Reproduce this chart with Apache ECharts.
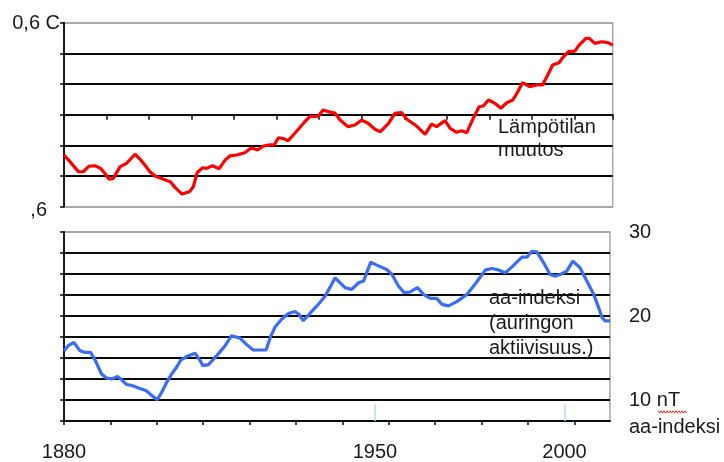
<!DOCTYPE html>
<html>
<head>
<meta charset="utf-8">
<script src="https://cdn.jsdelivr.net/npm/echarts@6/dist/echarts.min.js"></script>
<style>
  html, body { margin: 0; padding: 0; background: #fff; }
  #chart { width: 724px; height: 462px; }
</style>
</head>
<body>
<div id="chart"></div>
<script>
// ---- Data ----
// Temperature change (°C), smoothed, upper panel
const TEMP_YEARS = [1880, 1881.4, 1883.4, 1884.5, 1885.9, 1887.3, 1888.6, 1889.6, 1890.6, 1891.6, 1893.2, 1894.7, 1896.7, 1897.9, 1899, 1900.2, 1901.4, 1903.4, 1905, 1906.1, 1907.7, 1909.5, 1910.4, 1911.3, 1912.6, 1913.5, 1914.9, 1916.5, 1917.9, 1919, 1920.6, 1922.5, 1924.1, 1925.5, 1926.9, 1928.4, 1929.4, 1930.4, 1931.6, 1932.7, 1933.9, 1935.5, 1936.6, 1937.8, 1939.8, 1940.9, 1942.1, 1943.7, 1944.9, 1946.8, 1948.4, 1950, 1951.5, 1953.1, 1954.4, 1956.3, 1957.8, 1959.4, 1960.6, 1962.9, 1964.9, 1966.4, 1967.6, 1969.6, 1970.8, 1972.3, 1973.5, 1974.7, 1976.2, 1977.6, 1978.6, 1979.8, 1981.3, 1982.7, 1984.1, 1985.5, 1986.4, 1987.8, 1989.5, 1991.1, 1992.5, 1993.5, 1994.9, 1996.4, 1997.4, 1998.6, 2000.1, 2001.1, 2002.7, 2003.5, 2004.8, 2006.4, 2007.9, 2009];
const TEMP_VALUES = [-0.263, -0.306, -0.372, -0.372, -0.335, -0.333, -0.350, -0.382, -0.421, -0.415, -0.339, -0.317, -0.258, -0.291, -0.328, -0.372, -0.400, -0.421, -0.437, -0.474, -0.517, -0.502, -0.470, -0.378, -0.346, -0.350, -0.333, -0.352, -0.295, -0.269, -0.263, -0.248, -0.215, -0.230, -0.204, -0.196, -0.198, -0.150, -0.156, -0.170, -0.132, -0.082, -0.046, -0.013, -0.010, 0.031, 0.020, 0.010, -0.035, -0.078, -0.067, -0.035, -0.056, -0.095, -0.111, -0.056, 0.009, 0.013, -0.030, -0.074, -0.128, -0.061, -0.078, -0.039, -0.089, -0.115, -0.104, -0.117, -0.024, 0.052, 0.057, 0.096, 0.074, 0.042, 0.078, 0.096, 0.135, 0.209, 0.183, 0.194, 0.194, 0.248, 0.324, 0.339, 0.378, 0.411, 0.415, 0.454, 0.498, 0.498, 0.465, 0.476, 0.470, 0.454];

// aa-index (nT), smoothed, lower panel
const AA_YEARS = [1868, 1869.1, 1870.6, 1872.2, 1873.5, 1875, 1876.2, 1877.9, 1879.3, 1880.6, 1882.1, 1883.2, 1884.5, 1885.9, 1888, 1889.6, 1891.1, 1892.6, 1893.8, 1895.1, 1896.4, 1897.7, 1898.8, 1900.8, 1902.6, 1903.9, 1904.6, 1906.1, 1908.3, 1910.5, 1912.2, 1914.4, 1916.2, 1917.9, 1919.7, 1921.3, 1922.4, 1923.7, 1925.4, 1927.2, 1928.9, 1930.1, 1931.1, 1932.5, 1934.7, 1936.9, 1938.2, 1939.5, 1942.1, 1943.9, 1945.7, 1947, 1948.9, 1950.5, 1953.1, 1954.5, 1956.2, 1957.7, 1959.3, 1961.2, 1962.8, 1964.6, 1966.3, 1967.7, 1969.4, 1971.6, 1974.3, 1976.9, 1979.1, 1980.8, 1982.2, 1984.4, 1986.1, 1987.4, 1988.8, 1990.1, 1991.4, 1992.7, 1994.5, 1996.2, 1997.6, 1998.9, 2000.6, 2002.2, 2004.1, 2005, 2007.7, 2009, 2009.9, 2010.7, 2012];
const AA_VALUES = [15.87, 16.47, 16.86, 15.87, 15.67, 15.67, 14.76, 13.10, 12.60, 12.51, 12.80, 12.40, 11.85, 11.73, 11.38, 11.14, 10.55, 10.03, 10.94, 12.12, 13.10, 13.90, 14.76, 15.28, 15.56, 14.69, 14.10, 14.22, 15.28, 16.47, 17.65, 17.37, 16.59, 15.95, 15.95, 15.95, 17.45, 18.72, 19.62, 20.29, 20.53, 20.14, 19.43, 20.14, 21.20, 22.39, 23.45, 24.55, 23.37, 23.17, 23.96, 24.16, 26.41, 26.06, 25.54, 24.95, 23.57, 22.78, 22.86, 23.37, 22.58, 22.10, 22.10, 21.39, 21.20, 21.71, 22.58, 24.08, 25.46, 25.66, 25.54, 25.15, 25.82, 26.41, 27.00, 27.00, 27.71, 27.63, 26.33, 24.95, 24.75, 24.95, 25.35, 26.53, 25.74, 24.95, 22.58, 21.00, 19.82, 19.43, 19.43];

// Axis labels / ticks
const TEMP_TICK_LABELS = { '0.6': '0,6 C', '-0.6': ',6' };
const AA_TICK_LABELS = { '30': '30', '20': '20', '10': '10 nT' };
const X_LABEL_YEARS = [1868, 1950, 2000];
const X_LABELS = ['1880', '1950', '2000'];
const X_TICK_YEARS = [1868, 1880.2, 1892.5, 1904.7, 1917, 1929.2, 1941.4, 1953.7, 1965.9, 1978.2, 1990.4, 2002.6];
const MARKER_YEARS = [1950, 2000];

const TEMP_NOTE = 'Lämpötilan\nmuutos';
const AA_NOTE = 'aa-indeksi\n(auringon\naktiivisuus.)';
const AA_UNIT = 'aa-indeksi';

// ---- Styles ----
const FONT = '"Liberation Sans", Arial, sans-serif';
const TXT = '#1a1a1a';
const GRID_DARK = '#0a0a0a';
const BORDER = '#a8a8a8';

const chart = echarts.init(document.getElementById('chart'), null, { renderer: 'canvas' });

function wavy(x0, x1, y, amp, step) {
  const pts = [];
  let k = 0;
  for (let x = x0; x <= x1; x += step / 2, k++) pts.push([x, y + (k % 2 ? amp : -amp)]);
  return pts;
}

const option = {
  animation: false,
  backgroundColor: '#fff',
  textStyle: { fontFamily: FONT },
  grid: [
    { left: 64, top: 22.7, right: 111.3, height: 184, show: true, borderColor: BORDER, borderWidth: 1.5, backgroundColor: 'transparent' },
    { left: 64, top: 232, right: 114, height: 190, show: true, borderColor: BORDER, borderWidth: 1.5, backgroundColor: 'transparent' }
  ],
  xAxis: [
    {
      gridIndex: 0, type: 'value', min: 1880, max: 2009, interval: 10,
      axisLine: { show: true, onZero: true, lineStyle: { color: GRID_DARK, width: 1.8 } },
      axisTick: { show: true, length: 5, inside: false, lineStyle: { color: GRID_DARK, width: 1.5 } },
      axisLabel: { show: false },
      splitLine: { show: false }
    },
    {
      gridIndex: 1, type: 'value', min: 1868, max: 2012,
      axisLine: { show: true, onZero: false, lineStyle: { color: GRID_DARK, width: 1.8 } },
      axisTick: { show: true, length: 4, customValues: X_TICK_YEARS, lineStyle: { color: GRID_DARK, width: 1.5 } },
      axisLabel: {
        show: true, customValues: X_LABEL_YEARS, margin: 21,
        fontSize: 20, fontFamily: FONT, color: TXT,
        formatter: v => { const i = X_LABEL_YEARS.indexOf(v); return i >= 0 ? X_LABELS[i] : ''; }
      },
      splitLine: { show: false }
    }
  ],
  yAxis: [
    {
      gridIndex: 0, type: 'value', min: -0.6, max: 0.6, interval: 0.2,
      axisLine: { show: true, lineStyle: { color: GRID_DARK, width: 1.8 } },
      axisTick: { show: true, length: 4, lineStyle: { color: GRID_DARK, width: 1.5 } },
      axisLabel: {
        show: true, margin: 4, fontSize: 20, fontFamily: FONT, color: TXT,
        padding: [2, 0, 0, 0],
        formatter: v => {
          const key = String(Math.round(v * 10) / 10);
          if (key === '-0.6') return '{b|' + TEMP_TICK_LABELS[key] + '}';
          return TEMP_TICK_LABELS[key] || '';
        },
        rich: { b: { fontSize: 20, fontFamily: FONT, color: TXT, padding: [5, 13, 0, 0] } }
      },
      splitLine: { show: true, lineStyle: { width: 1.8, color: [BORDER, GRID_DARK, GRID_DARK, GRID_DARK, GRID_DARK, GRID_DARK, BORDER] } }
    },
    {
      gridIndex: 1, type: 'value', min: 7.5, max: 30, interval: 2.5,
      axisLine: { show: true, lineStyle: { color: GRID_DARK, width: 1.8 } },
      axisTick: { show: true, length: 4, lineStyle: { color: GRID_DARK, width: 1.5 } },
      axisLabel: { show: false },
      splitLine: { show: true, lineStyle: { width: 1.8, color: [GRID_DARK, GRID_DARK, GRID_DARK, GRID_DARK, GRID_DARK, GRID_DARK, GRID_DARK, GRID_DARK, GRID_DARK, BORDER] } }
    },
    {
      gridIndex: 1, type: 'value', min: 7.5, max: 30, interval: 2.5, position: 'right',
      axisLine: { show: false }, axisTick: { show: false }, splitLine: { show: false },
      axisLabel: {
        show: true, margin: 19, fontSize: 20, fontFamily: FONT, color: TXT, align: 'left',
        padding: [5, 0, 0, 0],
        formatter: v => AA_TICK_LABELS[String(Math.round(v * 10) / 10)] || ''
      }
    }
  ],
  series: [
    {
      type: 'line', xAxisIndex: 0, yAxisIndex: 0,
      data: TEMP_YEARS.map((y, i) => [y, TEMP_VALUES[i]]),
      showSymbol: false, smooth: false,
      lineStyle: { color: '#ff0000', width: 3.2 }, z: 5
    },
    {
      type: 'line', xAxisIndex: 1, yAxisIndex: 1,
      data: AA_YEARS.map((y, i) => [y, AA_VALUES[i]]),
      showSymbol: false, smooth: false,
      lineStyle: { color: '#3b6cf4', width: 3.2 }, z: 5,
      markLine: {
        silent: true, symbol: ['none', 'none'], label: { show: false },
        lineStyle: { color: '#b5dde3', width: 1.5, type: 'solid' },
        data: MARKER_YEARS.map(yr => [{ coord: [yr, 7.5] }, { coord: [yr, 9.5] }])
      }
    }
  ],
  graphic: [
    { type: 'text', left: 498, top: 116, style: { text: TEMP_NOTE, font: '20px ' + FONT, lineHeight: 23, fill: TXT }, z: 10 },
    { type: 'text', left: 489, top: 286, style: { text: AA_NOTE, font: '20px ' + FONT, lineHeight: 25, fill: TXT }, z: 10 },
    { type: 'text', left: 629, top: 415, style: { text: AA_UNIT, font: '20px ' + FONT, lineHeight: 24, fill: TXT }, z: 10 },
    { type: 'polyline', shape: { points: wavy(658, 687, 412, 1.2, 3) }, style: { stroke: '#e03030', lineWidth: 1, fill: null }, z: 10 }
  ]
};

chart.setOption(option);
</script>
</body>
</html>
